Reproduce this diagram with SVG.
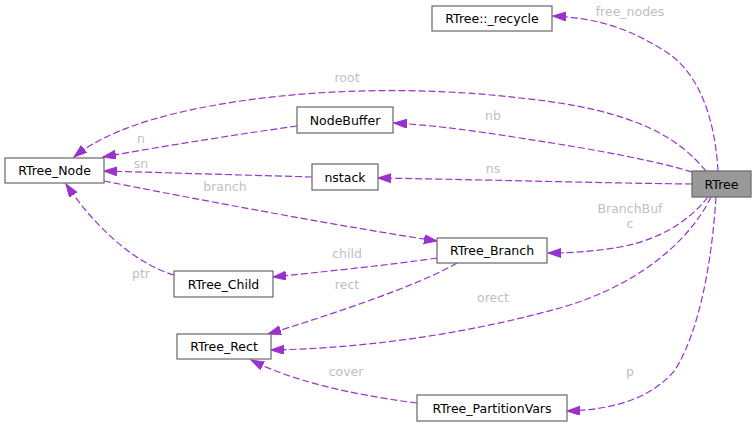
<svg xmlns="http://www.w3.org/2000/svg" width="756" height="426" viewBox="0 0 756 426">
<style>
  .node rect { fill: #ffffff; stroke: #666666; stroke-width: 1.2; }
  #RTree rect { fill: #999999; }
  .node text { font-family: "DejaVu Sans", sans-serif; font-size: 12.5px; fill: #000000; text-anchor: middle; }
  .edge { fill: none; stroke: #9a32cd; stroke-width: 1.2; stroke-dasharray: 7,3; marker-end: url(#arr); }
  .lbl { font-family: "DejaVu Sans", sans-serif; font-size: 12.5px; fill: #c0c0c0; text-anchor: middle; }
</style>
<defs>
  <marker id="arr" markerUnits="userSpaceOnUse" markerWidth="14" markerHeight="10" refX="13" refY="4.5" orient="auto">
    <path d="M0,0 L13,4.5 L0,9 z" fill="#9a32cd" stroke="#9a32cd" stroke-width="1"/>
  </marker>
</defs>
<g id="edges">
  <path class="edge" d="M718,171 C715,120 700,70 660,48 C630,30 600,18 553,16"/>
  <path class="edge" d="M706,171 C680,140 640,110 520,98 C420,86 300,88 200,108 C130,122 95,140 74,157"/>
  <path class="edge" d="M692,172 C660,162 600,150 520,138 C470,130 430,125 394,123"/>
  <path class="edge" d="M692,184 C600,183 500,180 378,178"/>
  <path class="edge" d="M297,126 C240,134 170,145 103,157"/>
  <path class="edge" d="M312,177 L104,171"/>
  <path class="edge" d="M104,181 C200,200 350,228 437,241"/>
  <path class="edge" d="M437,258 C390,265 320,272 273,277"/>
  <path class="edge" d="M174,275 C130,262 90,220 66,184"/>
  <path class="edge" d="M457,263 C420,285 330,315 268,334"/>
  <path class="edge" d="M711,197 C690,240 640,285 560,308 C480,330 380,348 271,350"/>
  <path class="edge" d="M708,197 C690,220 660,240 620,247 C590,252 570,253 548,253"/>
  <path class="edge" d="M716,197 C712,260 700,330 675,370 C650,400 610,410 567,411"/>
  <path class="edge" d="M417,403 C370,397 300,385 251,360"/>
  <text class="lbl" x="630" y="16">free_nodes</text>
  <text class="lbl" x="347" y="82">root</text>
  <text class="lbl" x="493" y="120">nb</text>
  <text class="lbl" x="493" y="173">ns</text>
  <text class="lbl" x="141" y="143">n</text>
  <text class="lbl" x="141" y="168">sn</text>
  <text class="lbl" x="225" y="191">branch</text>
  <text class="lbl" x="630" y="213">BranchBuf</text>
  <text class="lbl" x="630" y="228">c</text>
  <text class="lbl" x="347" y="258">child</text>
  <text class="lbl" x="141" y="278">ptr</text>
  <text class="lbl" x="347" y="289">rect</text>
  <text class="lbl" x="493" y="302">orect</text>
  <text class="lbl" x="346" y="376">cover</text>
  <text class="lbl" x="630" y="376">p</text>
</g>
<g id="RTree" class="node"><rect x="692" y="171" width="59" height="26"/><text x="721.5" y="188.5">RTree</text></g>
<g id="RTree_recycle" class="node"><rect x="432" y="6" width="120" height="25"/><text x="492" y="23">RTree::_recycle</text></g>
<g id="RTree_Node" class="node"><rect x="5" y="158" width="99" height="25"/><text x="54.5" y="175">RTree_Node</text></g>
<g id="NodeBuffer" class="node"><rect x="297" y="107" width="96" height="26"/><text x="345" y="124.5">NodeBuffer</text></g>
<g id="nstack" class="node"><rect x="312" y="164" width="66" height="26"/><text x="345" y="181.5">nstack</text></g>
<g id="RTree_Branch" class="node"><rect x="437" y="238" width="110" height="25"/><text x="492" y="255">RTree_Branch</text></g>
<g id="RTree_Child" class="node"><rect x="174" y="271" width="99" height="26"/><text x="223.5" y="288.5">RTree_Child</text></g>
<g id="RTree_Rect" class="node"><rect x="177" y="334" width="94" height="25"/><text x="224" y="351">RTree_Rect</text></g>
<g id="RTree_PartitionVars" class="node"><rect x="417" y="395" width="150" height="26"/><text x="492" y="412.5">RTree_PartitionVars</text></g>
</svg>
